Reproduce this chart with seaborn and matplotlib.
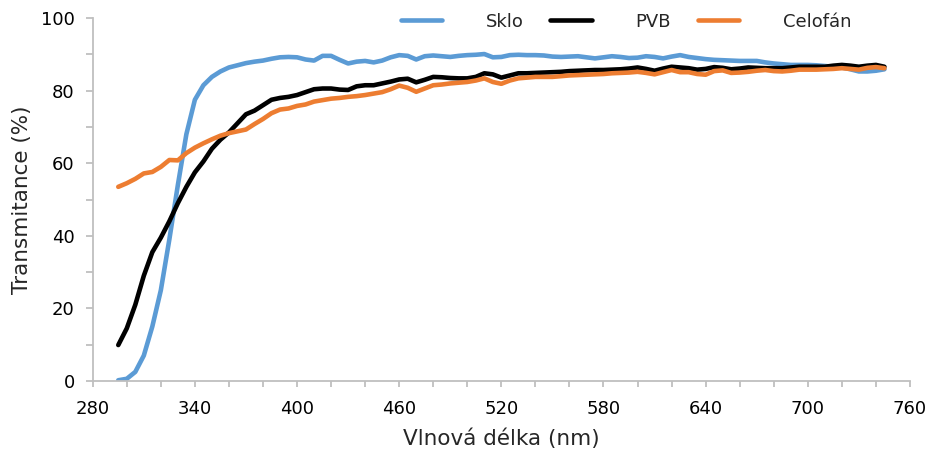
import numpy as np
import pandas as pd
import matplotlib
matplotlib.use("Agg")
import matplotlib.pyplot as plt
import seaborn as sns
from matplotlib.ticker import MultipleLocator

wavelength = list(range(295, 750, 5))

sklo = [0.2, 0.6, 2.5, 7, 15, 25, 39, 54, 68, 77.5, 81.5, 83.8, 85.3, 86.4, 87, 87.6, 88, 88.3,
        88.8, 89.2, 89.3, 89.2, 88.6, 88.3, 89.6, 89.6, 88.5, 87.5, 88, 88.2, 87.8, 88.3, 89.2,
        89.8, 89.6, 88.6, 89.5, 89.7, 89.5, 89.3, 89.6, 89.8, 89.9, 90.1, 89.2, 89.3, 89.8, 89.9,
        89.8, 89.8, 89.7, 89.4, 89.3, 89.4, 89.5, 89.2, 88.9, 89.2, 89.5, 89.3, 89, 89.1, 89.5,
        89.3, 88.9, 89.4, 89.8, 89.3, 89, 88.7, 88.5, 88.4, 88.3, 88.2, 88.2, 88.2, 87.8, 87.5,
        87.3, 87.1, 87.1, 87.1, 87, 86.8, 86.6, 86.4, 85.9, 85.3, 85.3, 85.5, 85.9]

pvb = [9.9, 14.5, 21, 29, 35.5, 39.5, 44, 49, 53.5, 57.5, 60.5, 64, 66.5, 68.5, 71, 73.5, 74.5,
       76, 77.5, 78, 78.3, 78.8, 79.6, 80.4, 80.6, 80.6, 80.3, 80.2, 81.2, 81.5, 81.5, 82, 82.5,
       83.1, 83.3, 82.3, 83, 83.8, 83.7, 83.5, 83.4, 83.4, 83.8, 84.8, 84.5, 83.6, 84.2, 84.8,
       84.8, 84.9, 85, 85.1, 85.2, 85.4, 85.5, 85.6, 85.7, 85.7, 85.8, 85.9, 86.1, 86.4, 86,
       85.5, 86.1, 86.6, 86.4, 86.2, 85.8, 86, 86.5, 86.3, 85.9, 86.1, 86.4, 86.3, 86.2, 86.2,
       86.2, 86.4, 86.6, 86.6, 86.6, 86.6, 86.9, 87.1, 86.9, 86.6, 86.9, 87.1, 86.6]

celofan = [53.5, 54.5, 55.7, 57.2, 57.6, 59, 60.9, 60.8, 62.8, 64.3, 65.5, 66.6, 67.6, 68.3,
           68.8, 69.3, 70.8, 72.2, 73.8, 74.8, 75.1, 75.8, 76.2, 77, 77.4, 77.8, 78, 78.3, 78.5,
           78.8, 79.2, 79.6, 80.4, 81.4, 80.8, 79.7, 80.6, 81.5, 81.7, 82, 82.2, 82.4, 82.8, 83.4,
           82.4, 81.9, 82.8, 83.4, 83.6, 83.8, 83.8, 83.8, 84, 84.2, 84.3, 84.4, 84.5, 84.6, 84.8,
           84.9, 85, 85.2, 84.9, 84.5, 85.1, 85.7, 85.1, 85.1, 84.6, 84.4, 85.4, 85.6, 84.9, 85,
           85.2, 85.5, 85.7, 85.4, 85.3, 85.5, 85.8, 85.8, 85.8, 85.9, 86, 86.2, 86, 85.8, 86.3,
           86.5, 86.2]

series_names = ["Sklo", "PVB", "Celofán"]
colors = ["#5B9BD5", "#000000", "#ED7D31"]
x_ticks = [280, 340, 400, 460, 520, 580, 640, 700, 760]
y_ticks = [0, 20, 40, 60, 80, 100]

df = pd.concat([
    pd.DataFrame({"wl": wavelength, "T": vals, "series": name})
    for name, vals in zip(series_names, [sklo, pvb, celofan])
])

sns.set_theme(style="white")
plt.rcParams['font.family'] = ['DejaVu Sans']

fig = plt.figure(figsize=(9.31, 4.53), dpi=100)
ax = fig.add_axes([0.0996, 0.159, 0.8778, 0.801])

sns.lineplot(data=df, x="wl", y="T", hue="series", hue_order=series_names,
             palette=colors, linewidth=3.3, ax=ax, legend=True)

ax.set_xlim(280, 760)
ax.set_ylim(0, 100)
ax.set_xticks(x_ticks)
ax.set_yticks(y_ticks)
ax.xaxis.set_minor_locator(MultipleLocator(20))
ax.yaxis.set_minor_locator(MultipleLocator(10))

spine_c = "#BFBFBF"
for s in ["top", "right"]:
    ax.spines[s].set_visible(False)
for s in ["left", "bottom"]:
    ax.spines[s].set_color(spine_c)
    ax.spines[s].set_linewidth(1.3)

ax.tick_params(axis="both", which="both", direction="out", color=spine_c, width=1.3, length=5,
               labelsize=13, labelcolor="#000000", bottom=True, left=True)
ax.tick_params(axis="x", which="both", length=4, pad=10)
ax.tick_params(axis="y", which="both", pad=8)

ax.set_xlabel("Vlnová délka (nm)", fontsize=15.5, labelpad=7)
ax.set_ylabel("Transmitance (%)", fontsize=15.5, labelpad=6)

leg = ax.legend(loc="center", bbox_to_anchor=(0.6525, 0.99), ncol=3, frameon=False,
                fontsize=13, handlelength=2.3, handletextpad=2.4, columnspacing=1.5)
for line in leg.get_lines():
    line.set_linewidth(3.3)

fig.savefig("out.png", dpi=100)
